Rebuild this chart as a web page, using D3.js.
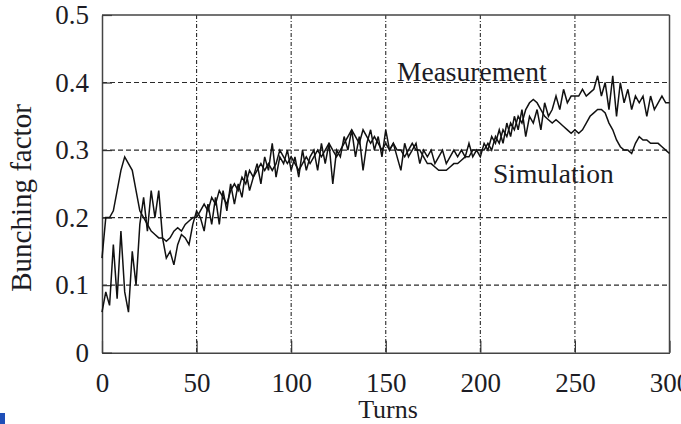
<!DOCTYPE html>
<html>
<head>
<meta charset="utf-8">
<script src="https://cdn.jsdelivr.net/npm/d3@7"></script>
<style>
  html, body { margin: 0; padding: 0; background: #fff; }
  svg { display: block; }
  text { font-family: "Liberation Serif", "Times New Roman", serif; fill: #1c1c24; }
</style>
</head>
<body>
<div id="chart"></div>
<script>
// turns are sampled every 2 turns, 0..300
const turns = d3.range(0, 301, 2);

const measurement = [
  0.06, 0.09, 0.07, 0.16, 0.08, 0.18, 0.09, 0.06, 0.15, 0.10,
  0.19, 0.23, 0.18, 0.24, 0.20, 0.24, 0.17, 0.14, 0.15, 0.13,
  0.16, 0.175, 0.17, 0.16, 0.19, 0.21, 0.20, 0.18, 0.22, 0.19,
  0.23, 0.19, 0.24, 0.21, 0.25, 0.22, 0.25, 0.23, 0.27, 0.24,
  0.26, 0.28, 0.25, 0.29, 0.27, 0.31, 0.26, 0.29, 0.28, 0.30,
  0.27, 0.29, 0.26, 0.30, 0.27, 0.29, 0.30, 0.27, 0.31, 0.28,
  0.31, 0.25, 0.30, 0.29, 0.32, 0.30, 0.33, 0.29, 0.32, 0.27,
  0.31, 0.33, 0.30, 0.32, 0.29, 0.33, 0.30, 0.31, 0.29, 0.27,
  0.31, 0.29, 0.30, 0.31, 0.28, 0.30, 0.29, 0.30, 0.28, 0.29,
  0.30, 0.28, 0.29, 0.30, 0.29, 0.30, 0.29, 0.31, 0.29, 0.30,
  0.29, 0.31, 0.30, 0.32, 0.31, 0.33, 0.31, 0.34, 0.32, 0.35,
  0.33, 0.36, 0.32, 0.35, 0.34, 0.36, 0.33, 0.37, 0.35, 0.36,
  0.38, 0.36, 0.39, 0.37, 0.38, 0.38, 0.38, 0.39, 0.38, 0.385,
  0.39, 0.41, 0.38, 0.40, 0.36, 0.41, 0.35, 0.40, 0.37, 0.39,
  0.36, 0.38, 0.37, 0.38, 0.35, 0.38, 0.36, 0.37, 0.38, 0.37,
  0.37
];

const simulation = [
  0.14, 0.20, 0.20, 0.21, 0.24, 0.27, 0.29, 0.28, 0.27, 0.24,
  0.21, 0.20, 0.19, 0.18, 0.175, 0.17, 0.17, 0.165, 0.17, 0.18,
  0.185, 0.18, 0.19, 0.195, 0.20, 0.20, 0.21, 0.22, 0.21, 0.23,
  0.22, 0.24, 0.23, 0.22, 0.24, 0.25, 0.24, 0.26, 0.25, 0.27,
  0.26, 0.27, 0.28, 0.27, 0.28, 0.27, 0.28, 0.30, 0.29, 0.28,
  0.29, 0.28, 0.27, 0.28, 0.29, 0.28, 0.29, 0.30, 0.29, 0.30,
  0.31, 0.30, 0.29, 0.30, 0.31, 0.32, 0.33, 0.32, 0.31, 0.33,
  0.32, 0.31, 0.32, 0.31, 0.30, 0.31, 0.30, 0.31, 0.30, 0.30,
  0.29, 0.30, 0.31, 0.30, 0.30, 0.29, 0.28, 0.28, 0.275, 0.27,
  0.27, 0.27, 0.275, 0.28, 0.28, 0.285, 0.29, 0.29, 0.30, 0.30,
  0.30, 0.30, 0.31, 0.30, 0.32, 0.31, 0.33, 0.32, 0.34, 0.33,
  0.35, 0.34, 0.36, 0.37, 0.375, 0.37, 0.36, 0.35, 0.345, 0.34,
  0.345, 0.34, 0.335, 0.33, 0.325, 0.33, 0.325, 0.33, 0.34, 0.35,
  0.355, 0.36, 0.36, 0.355, 0.34, 0.33, 0.315, 0.305, 0.30, 0.30,
  0.295, 0.31, 0.32, 0.315, 0.315, 0.31, 0.31, 0.31, 0.305, 0.30,
  0.295
];

const xTicks = [0, 50, 100, 150, 200, 250, 300];
const yTicks = [0, 0.1, 0.2, 0.3, 0.4, 0.5];
const yTickLabels = ["0", "0.1", "0.2", "0.3", "0.4", "0.5"];

let width = 681;
let height = 424;
let plot = { left: 102, right: 669.5, top: 15, bottom: 352.7 };

let svg = d3.select("#chart")
  .append("svg")
  .attr("width", width)
  .attr("height", height);

let x = d3.scaleLinear().domain([0, 300]).range([plot.left, plot.right]);
let y = d3.scaleLinear().domain([0, 0.5]).range([plot.bottom, plot.top]);

// grid lines
svg.append("g")
  .selectAll("line")
  .data(yTicks.slice(1, -1))
  .enter()
  .append("line")
    .attr("x1", plot.left)
    .attr("x2", plot.right)
    .attr("y1", d => y(d))
    .attr("y2", d => y(d))
    .attr("stroke", "#2a2a2a")
    .attr("stroke-width", 1.1)
    .attr("stroke-dasharray", "5,3");

svg.append("g")
  .selectAll("line")
  .data(xTicks.slice(1, -1))
  .enter()
  .append("line")
    .attr("x1", d => x(d))
    .attr("x2", d => x(d))
    .attr("y1", plot.top)
    .attr("y2", plot.bottom)
    .attr("stroke", "#2a2a2a")
    .attr("stroke-width", 1.1)
    .attr("stroke-dasharray", "4,2,1,2");

// axes, ticks pointing inward
let xAxis = d3.axisBottom(x)
  .tickValues(xTicks)
  .tickSizeInner(-12)
  .tickSizeOuter(0)
  .tickPadding(20)
  .tickFormat(d3.format("d"));

let yAxis = d3.axisLeft(y)
  .tickValues(yTicks)
  .tickSizeInner(-10)
  .tickSizeOuter(0)
  .tickPadding(13)
  .tickFormat((d, i) => yTickLabels[i]);

let gx = svg.append("g")
  .attr("transform", "translate(0," + plot.bottom + ")")
  .call(xAxis);

let gy = svg.append("g")
  .attr("transform", "translate(" + plot.left + ",0)")
  .call(yAxis);

[gx, gy].forEach(g => {
  g.select(".domain").attr("stroke", "#444").attr("stroke-width", 1.5);
  g.selectAll(".tick line").attr("stroke", "#333").attr("stroke-width", 1.2);
  g.selectAll(".tick text")
    .attr("fill", "#1c1c24")
    .style("font-family", '"Liberation Serif", serif')
    .style("font-size", "27px");
});

// top and right frame
svg.append("line")
  .attr("x1", plot.left).attr("x2", plot.right)
  .attr("y1", plot.top).attr("y2", plot.top)
  .attr("stroke", "#444").attr("stroke-width", 1.5);
svg.append("line")
  .attr("x1", plot.right).attr("x2", plot.right)
  .attr("y1", plot.top).attr("y2", plot.bottom)
  .attr("stroke", "#444").attr("stroke-width", 1.5);

// the two curves
let line = d3.line()
  .x((d, i) => x(turns[i]))
  .y(d => y(d));

svg.append("path")
  .datum(simulation)
  .attr("fill", "none")
  .attr("stroke", "#111")
  .attr("stroke-width", 1.5)
  .attr("d", line);

svg.append("path")
  .datum(measurement)
  .attr("fill", "none")
  .attr("stroke", "#111")
  .attr("stroke-width", 1.5)
  .attr("d", line);

// labels
svg.append("text")
  .attr("x", 397)
  .attr("y", 81)
  .style("font-size", "27.5px")
  .text("Measurement");

svg.append("text")
  .attr("x", 493)
  .attr("y", 183)
  .style("font-size", "27.5px")
  .text("Simulation");

svg.append("text")
  .attr("x", 388)
  .attr("y", 418)
  .attr("text-anchor", "middle")
  .style("font-size", "26px")
  .text("Turns");

svg.append("text")
  .attr("transform", "translate(31,198) rotate(-90)")
  .attr("text-anchor", "middle")
  .style("font-size", "29px")
  .text("Bunching factor");

// small blue mark at the bottom-left corner
svg.append("rect")
  .attr("x", 0).attr("y", 413)
  .attr("width", 5).attr("height", 11)
  .attr("fill", "#1f4fb8");
</script>
</body>
</html>
